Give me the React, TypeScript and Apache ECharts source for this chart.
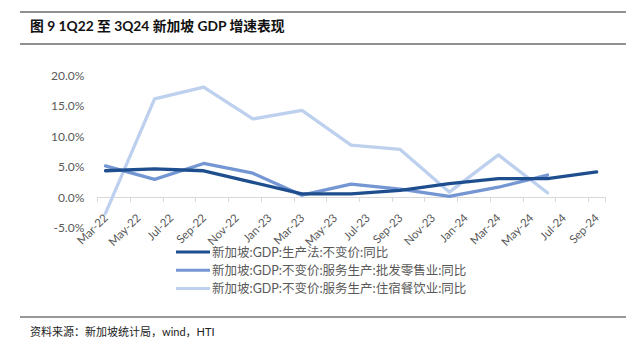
import React, { useEffect, useRef } from "react";
import * as echarts from "echarts";

const months = [
  "Mar-22", "Apr-22", "May-22", "Jun-22", "Jul-22", "Aug-22", "Sep-22", "Oct-22", "Nov-22", "Dec-22",
  "Jan-23", "Feb-23", "Mar-23", "Apr-23", "May-23", "Jun-23", "Jul-23", "Aug-23", "Sep-23", "Oct-23",
  "Nov-23", "Dec-23", "Jan-24", "Feb-24", "Mar-24", "Apr-24", "May-24", "Jun-24", "Jul-24", "Aug-24",
  "Sep-24",
];

const quarters = ["Mar-22", "Jun-22", "Sep-22", "Dec-22", "Mar-23", "Jun-23", "Sep-23", "Dec-23", "Mar-24", "Jun-24", "Sep-24"];

const gdpTotal = [4.3, 4.6, 4.3, 2.4, 0.5, 0.5, 1.1, 2.2, 3.0, 3.0, 4.1];
const wholesaleRetail = [5.1, 2.9, 5.5, 3.9, 0.3, 2.1, 1.3, 0.1, 1.6, 3.6, null];
const accommodationFood = [-2.7, 16.1, 18.0, 12.8, 14.2, 8.5, 7.8, 0.8, 6.9, 0.7, null];

const seriesNames = [
  "新加坡:GDP:生产法:不变价:同比",
  "新加坡:GDP:不变价:服务生产:批发零售业:同比",
  "新加坡:GDP:不变价:服务生产:住宿餐饮业:同比",
];
const seriesColors = ["#1F4E8E", "#7496D3", "#BDD0EE"];

const titleText = "图 9 1Q22 至 3Q24 新加坡 GDP 增速表现";
const sourceText = "资料来源：新加坡统计局，wind，HTI";

function toMonthly(vals: (number | null)[]) {
  const out: (number | null)[] = months.map(() => null);
  quarters.forEach((q, i) => {
    const idx = months.indexOf(q);
    if (idx >= 0 && vals[i] !== null && vals[i] !== undefined) out[idx] = vals[i] as number;
  });
  return out;
}

export default function App() {
  const ref = useRef<HTMLDivElement>(null);
  useEffect(() => {
    if (!ref.current) return;
    const chart = echarts.init(ref.current, null, { renderer: "svg" });
    const latin = "Lato, 'Noto Sans CJK SC', sans-serif";
    const dataSets = [gdpTotal, wholesaleRetail, accommodationFood];
    chart.setOption({
      animation: false,
      backgroundColor: "#ffffff",
      grid: { left: 97.3, right: 39.2, top: 75, bottom: 116.5, containLabel: false },
      xAxis: {
        type: "category",
        data: months,
        boundaryGap: true,
        axisLine: { onZero: true, lineStyle: { color: "#D9D9D9", width: 1 } },
        axisTick: { show: true, interval: 1, length: 5, lineStyle: { color: "#D9D9D9" } },
        axisLabel: {
          interval: 1,
          rotate: 45,
          margin: -12,
          fontSize: 11.5,
          color: "#595959",
          fontFamily: latin,
        },
        splitLine: { show: false },
      },
      yAxis: {
        type: "value",
        min: -5,
        max: 20,
        interval: 5,
        axisLine: { show: false },
        axisTick: { show: false },
        splitLine: { show: false },
        axisLabel: {
          margin: 13,
          fontSize: 12,
          color: "#595959",
          fontFamily: latin,
          formatter: (v: number) => v.toFixed(1) + "%",
        },
      },
      legend: {
        orient: "vertical",
        left: 176,
        top: 245,
        padding: 0,
        itemWidth: 34,
        itemHeight: 3,
        itemGap: 4.3,
        icon: "rect",
        textStyle: { fontSize: 12.5, color: "#595959", fontFamily: latin, lineHeight: 14, padding: [0, 0, 0, -3] },
        data: seriesNames,
      },
      series: seriesNames.map((name, i) => ({
        name,
        type: "line",
        data: toMonthly(dataSets[i]),
        connectNulls: true,
        symbol: "none",
        showSymbol: false,
        lineStyle: { width: 3.3, color: seriesColors[i], cap: "round", join: "round" },
        itemStyle: { color: seriesColors[i] },
        z: 10 - i,
      })),
      graphic: [
        { type: "line", shape: { x1: 20, y1: 12, x2: 626, y2: 12 }, style: { stroke: "#222", lineWidth: 1.2 } },
        { type: "line", shape: { x1: 20, y1: 44, x2: 626, y2: 44 }, style: { stroke: "#222", lineWidth: 1.2 } },
        {
          type: "text",
          left: 30,
          top: 19,
          style: { text: titleText, font: "bold 13.8px Lato, 'Noto Sans CJK SC', sans-serif", fill: "#111" },
        },
        { type: "line", shape: { x1: 20, y1: 317, x2: 626, y2: 317 }, style: { stroke: "#333", lineWidth: 1.2 } },
        {
          type: "text",
          left: 30,
          top: 326,
          style: { text: sourceText, font: "11px Lato, 'Noto Sans CJK SC', sans-serif", fill: "#222" },
        },
      ],
    });
    return () => chart.dispose();
  }, []);
  return <div ref={ref} style={{ position: "fixed", left: 0, top: 0, width: 644, height: 344 }} />;
}
